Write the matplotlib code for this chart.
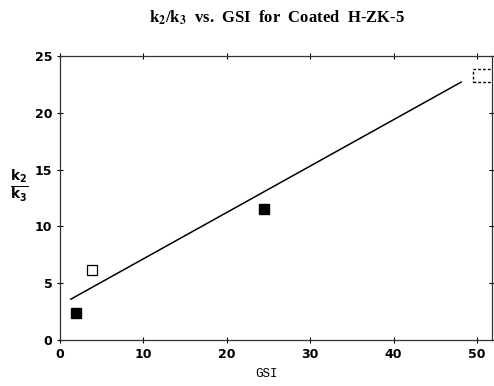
import matplotlib.pyplot as plt
from matplotlib.patches import Rectangle

# datos
filled_gsi = [1.9, 24.4]
filled_k = [2.4, 11.5]
open_gsi = [3.8]
open_k = [6.2]
dashed_gsi = [51.3]
dashed_k = [23.3]
fit_gsi = [1.3, 48.1]
fit_k = [3.6, 22.7]

x_ticks = [0, 10, 20, 30, 40, 50]
y_ticks = [0, 5, 10, 15, 20, 25]

fig = plt.figure(figsize=(4.94, 3.86), dpi=100)
ax = fig.add_axes([0.1215, 0.119, 0.8745, 0.736])

# linea de ajuste
ax.plot(fit_gsi, fit_k, color='black', lw=1.1)

# puntos
ax.plot(filled_gsi, filled_k, 's', color='black', ms=7)
ax.plot(open_gsi, open_k, 's', mfc='white', mec='black', mew=0.9, ms=7)

# cuadro punteado cortado por el borde derecho
ax.add_patch(Rectangle((dashed_gsi[0] - 1.8, dashed_k[0] - 0.55), 3.6, 1.1,
                       fill=False, ec='black', lw=1.0, ls=(0, (2, 1.5))))

ax.set_xlim(0, 51.8)
ax.set_ylim(0, 25)
ax.set_xticks(x_ticks)
ax.set_yticks(y_ticks)
ax.tick_params(direction='inout', length=5, width=0.8, top=True, right=True,
               labelsize=9, pad=3)
for lab in ax.get_xticklabels() + ax.get_yticklabels():
    lab.set_fontweight('bold')
for s in ax.spines.values():
    s.set_linewidth(0.9)
    s.set_color('#333333')

fig.text(0.561, 0.953, r'k$_\mathbf{2}$/k$_\mathbf{3}$  vs.  GSI  for  Coated  H-ZK-5',
         ha='center', va='center', fontsize=12, fontweight='bold',
         family='Liberation Serif', math_fontfamily='stix')
fig.text(0.038, 0.52, r'$\mathbf{\frac{k_2}{k_3}}$', ha='center',
         va='center', fontsize=14, math_fontfamily='dejavusans')
fig.text(0.54, 0.03, 'GSI', ha='center', va='center', fontsize=9,
         family='Liberation Mono')

plt.savefig('out.png', dpi=100)
